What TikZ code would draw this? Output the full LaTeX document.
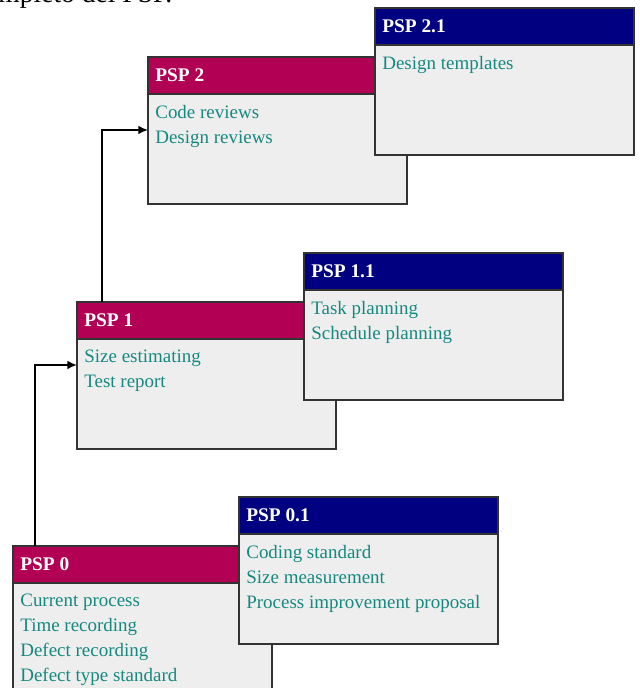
\documentclass[tikz,border=0pt]{standalone}
\usepackage{fontspec}
\setmainfont{Liberation Serif}
\definecolor{pspred}{HTML}{B20055}
\definecolor{pspblue}{HTML}{000080}
\definecolor{pspbody}{HTML}{EEEEEE}
\definecolor{pspline}{HTML}{333333}
\definecolor{pspteal}{HTML}{16897F}
\tikzset{
  hdr/.style={draw=pspline, line width=0.8pt, anchor=north west, inner sep=0pt, outer sep=0pt,
    minimum width=5.18cm, minimum height=0.74cm},
  bodybox/.style={draw=pspline, fill=pspbody, line width=0.8pt, anchor=north west, inner sep=0pt,
    outer sep=0pt, minimum width=5.18cm, minimum height=2.2cm},
  title/.style={anchor=west, inner sep=0pt, text=white, font=\fontsize{11}{13}\selectfont\bfseries},
  items/.style={anchor=north west, inner sep=0pt, align=left, text=pspteal,
    font=\fontsize{10.8}{14.2}\selectfont},
  flow/.style={-{Latex[length=5.5pt,width=5pt]}, line width=1pt}
}
\usetikzlibrary{arrows.meta}
\begin{document}
\begin{tikzpicture}[x=0.02cm, y=-0.02cm]
\clip (0,0) rectangle (639,688);
\node[anchor=base west, inner sep=0pt, font=\fontsize{15.7}{18}\selectfont] (caption) at (-2,3) {mpleto del PSP.};
% PSP 2
\node[hdr, fill=pspred] (psp2h) at (148,57) {};
\node[title] at ([xshift=0.14cm]psp2h.west) {PSP 2};
\node[bodybox] (psp2b) at (psp2h.south west) {};
\node[items] at ([xshift=0.14cm, yshift=-0.22cm]psp2b.north west) {Code reviews\\Design reviews};
% PSP 2.1
\node[hdr, fill=pspblue] (psp21h) at (375,8) {};
\node[title] at ([xshift=0.14cm]psp21h.west) {PSP 2.1};
\node[bodybox] (psp21b) at (psp21h.south west) {};
\node[items] at ([xshift=0.14cm, yshift=-0.22cm]psp21b.north west) {Design templates};
% PSP 1
\node[hdr, fill=pspred] (psp1h) at (77,302) {};
\node[title] at ([xshift=0.14cm]psp1h.west) {PSP 1};
\node[bodybox] (psp1b) at (psp1h.south west) {};
\node[items] at ([xshift=0.14cm, yshift=-0.22cm]psp1b.north west) {Size estimating\\Test report};
% PSP 1.1
\node[hdr, fill=pspblue] (psp11h) at (304,253) {};
\node[title] at ([xshift=0.14cm]psp11h.west) {PSP 1.1};
\node[bodybox] (psp11b) at (psp11h.south west) {};
\node[items] at ([xshift=0.14cm, yshift=-0.22cm]psp11b.north west) {Task planning\\Schedule planning};
% PSP 0
\node[hdr, fill=pspred] (psp0h) at (13,546) {};
\node[title] at ([xshift=0.14cm]psp0h.west) {PSP 0};
\node[bodybox, minimum height=2.6cm] (psp0b) at (psp0h.south west) {};
\node[items] at ([xshift=0.14cm, yshift=-0.22cm]psp0b.north west) {Current process\\Time recording\\Defect recording\\Defect type standard};
% PSP 0.1
\node[hdr, fill=pspblue] (psp01h) at (239,497) {};
\node[title] at ([xshift=0.14cm]psp01h.west) {PSP 0.1};
\node[bodybox] (psp01b) at (psp01h.south west) {};
\node[items] at ([xshift=0.14cm, yshift=-0.22cm]psp01b.north west) {Coding standard\\Size measurement\\Process improvement proposal};
% arrows
\draw[flow] ([xshift=0.44cm]psp0h.north west) |- ([yshift=-0.52cm]psp1b.north west);
\draw[flow] ([xshift=0.5cm]psp1h.north west) |- ([yshift=-0.72cm]psp2b.north west);
\end{tikzpicture}
\end{document}
